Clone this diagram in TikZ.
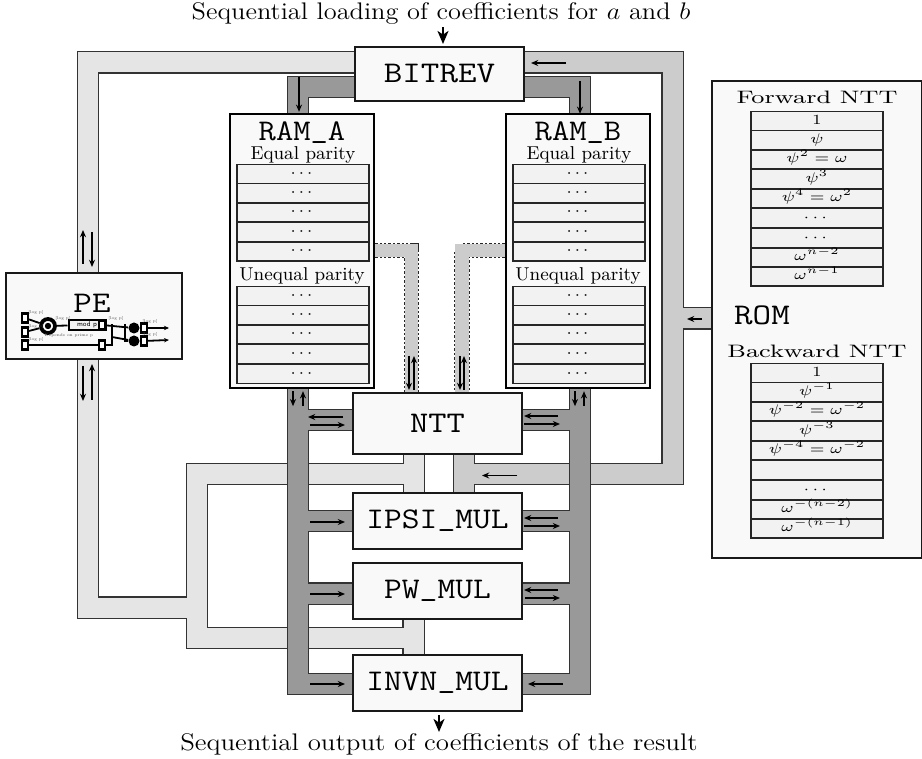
\documentclass[tikz,border=0pt]{standalone}
\usepackage{amsmath}
\usepackage{xcolor}
\usepackage{tikz}
\usetikzlibrary{arrows.meta, positioning, backgrounds, calc}

\definecolor{darkbus}{gray}{0.60}
\definecolor{medbus}{gray}{0.80}
\definecolor{lightbus}{gray}{0.90}

\newcommand{\drawbus}[2]{%
  \draw[line width=11.3pt, black!80] #2;
  \draw[line width=10pt, #1] #2;
}
\newcommand{\drawdotbus}[1]{%
  \draw[line width=7.8pt, black!85, dash pattern=on 1.2pt off 1pt] #1;
  \draw[line width=6.6pt, medbus] #1;
}
\newcommand{\romtext}[1]{\scalebox{1.2}[1]{\scriptsize #1}}
\newcommand{\blocktext}[2][1.15]{\scalebox{#1}[1]{\fontsize{15}{17}\selectfont\ttfamily #2}}
\newcommand{\usc}{\raisebox{1.6pt}{\_}}
\newcommand{\widetext}[1]{\scalebox{1.1}[1]{\fontsize{12}{14}\selectfont #1}}

\begin{document}
\begin{tikzpicture}[
    x=0.5pt, y=-0.5pt,
    every node/.style={font=\fontsize{9.3}{11}\selectfont},
    block/.style={rectangle, draw=black!90, line width=1pt, fill=black!2.5, minimum width=84.5pt, minimum height=28pt, inner sep=0pt},
    ram/.style={rectangle, draw=black, line width=1.2pt, fill=black!2.5, minimum width=72pt, minimum height=137pt},
    cell/.style={rectangle, draw=black!85, line width=0.75pt, fill=black!5, minimum width=66pt, minimum height=9.7pt, inner sep=0pt, text height=6.4pt, text depth=3.3pt},
    title/.style={inner sep=0pt},
    arrow/.style={-{Stealth[length=3.6pt, width=3pt]}, line width=0.9pt},
    bigarrow/.style={-{Stealth[length=6.5pt, width=5.5pt, inset=1.8pt]}, line width=1pt},
    minireg/.style={rectangle, draw=black, line width=1.1pt, fill=white, minimum width=3pt, minimum height=4.5pt, inner sep=0pt},
    wire/.style={line width=0.9pt},
    minilabel/.style={font=\fontsize{2}{2}\selectfont, text=black!70, inner sep=0pt}
]
\useasboundingbox (0,0) rectangle (922,759);

% main blocks
\node (bitrev) [block, minimum height=27pt] at (439.5,74) {\blocktext[1.2]{BITREV}};
\node (ntt) [block, minimum height=30.5pt] at (437.5,423.5) {\blocktext[1.18]{NTT}};
\node (ipsi) [block] at (437.5,521) {\blocktext{IPSI\usc MUL}};
\node (pw) [block] at (437.5,591) {\blocktext{PW\usc MUL}};
\node (invn) [block] at (437.5,683) {\blocktext{INVN\usc MUL}};
\node (pe) [block, minimum width=88pt, minimum height=43pt] at (94,316) {};
\node (rom) [rectangle, draw=black!90, line width=1pt, fill=black!2.5, minimum width=105pt, minimum height=238.5pt, inner sep=0pt] at (817,319.5) {};

\node (toptext) [inner sep=0pt] at (441,14) {\widetext{Sequential loading of coefficients for $a$ and $b$}};
\node (bottomtext) [inner sep=0pt] at (439,744) {\scalebox{1.02}[1]{\widetext{Sequential output of coefficients of the result}}};

% RAM blocks
\node (ramA) [ram] at (302,251) {};
\node (ramB) [ram] at (578,251) {};
\node (titleA) [title] at (302,133) {\blocktext[1.12]{RAM\usc A}};
\node (titleB) [title] at (578,133) {\blocktext[1.12]{RAM\usc B}};
\node (eqA) at (303,155) {Equal parity};
\node (eqB) at (579,155) {Equal parity};
\node (uneqA) at (302,276) {Unequal parity};
\node (uneqB) at (578,276) {Unequal parity};
\foreach \i/\y in {1/174,2/193,3/212.5,4/232,5/251.5,6/296,7/315,8/334.5,9/354,10/374} {
    \node (cellA\i) [cell] at (303,\y) {\scalebox{1.1}[1]{\footnotesize$\cdots$}};
    \node (cellB\i) [cell] at (579,\y) {\scalebox{1.1}[1]{\footnotesize$\cdots$}};
}

% ROM contents
\node (romlabel) [title] at (762,315) {\blocktext[1.2]{ROM}};
\node (fwdlabel) [inner sep=0pt] at (817,97) {\scalebox{1.42}[1]{\fontsize{9}{10}\selectfont Forward NTT}};
\node (bwdlabel) [inner sep=0pt] at (817,351) {\scalebox{1.42}[1]{\fontsize{9}{10}\selectfont Backward NTT}};
\foreach \i/\y/\txt in {1/121/1, 2/140/\psi, 3/159.5/\psi^2=\omega, 4/179/\psi^3, 5/198.5/\psi^4=\omega^2, 6/218/\cdots, 7/238/\cdots, 8/257.5/\omega^{n-2}, 9/276.5/\omega^{n-1}} {
    \node (fwd\i) [cell] at (817,\y) {\romtext{$\txt$}};
}
\foreach \i/\y/\txt in {1/373/1, 2/392/\psi^{-1}, 3/411.5/\psi^{-2}=\omega^{-2}, 4/431/\psi^{-3}, 5/450.5/\psi^{-4}=\omega^{-2}, 6/470/, 7/490/\cdots, 8/509.5/\omega^{-(n-2)}, 9/528.5/\omega^{-(n-1)}} {
    \node (bwd\i) [cell] at (817,\y) {\romtext{$\txt$}};
}

% PE contents
\node (pelabel) [title] at (92,303) {\blocktext[1.2]{PE}};
\coordinate (mjoinA) at (112,324);
\coordinate (mjoinB) at (112,337);
\coordinate (mjoinC) at (125,324);
\coordinate (mjoinD) at (125,341);
\coordinate (mout6) at (169,328);
\coordinate (mout7) at (169,340);
\node (mreg1) [minireg] at (25,318) {};
\node (mreg2) [minireg] at (25,332) {};
\node (mreg3) [minireg] at (25,345) {};
\node (mmul) [circle, draw=black, line width=1.9pt, fill=white, minimum size=7pt, inner sep=0pt] at (48,326) {};
\node (mdot) [circle, fill=black, minimum size=3.2pt, inner sep=0pt] at (mmul) {};
\node (mmod) [rectangle, draw=black, line width=1pt, fill=black!5, minimum width=18.5pt, minimum height=5pt, inner sep=0pt, font=\fontsize{3.5}{4}\selectfont\sffamily] at (87,325) {mod p};
\node (mreg4) [minireg] at (102,325) {};
\node (mreg5) [minireg] at (102,345) {};
\node (madd) [circle, fill=black, minimum size=5.5pt, inner sep=0pt] at (134,328) {};
\node (msub) [circle, fill=black, minimum size=5.5pt, inner sep=0pt] at (134,341) {};
\node (mreg6) [minireg] at (144,328) {};
\node (mreg7) [minireg] at (144,341) {};
\draw [wire] (mreg1) -- (mmul);
\draw [wire] (mreg2) -- (mmul);
\draw [wire] (mreg3) -- (mreg5);
\draw [wire] (mmul) -- (mmod);
\draw [wire] (mreg4) -- (madd);
\draw [wire] (mreg5.east) -| (mjoinB) -- (msub);
\draw [wire] (mjoinB) -- (mjoinA);
\draw [wire] (mjoinC) -- (mjoinD) -- (msub);
\draw [-{Stealth[length=2.5pt,width=2.2pt]}, wire] (mreg6) -- (mout6);
\draw [-{Stealth[length=2.5pt,width=2.2pt]}, wire] (mreg7) -- (mout7);
\node (mtxt1) [minilabel] at (36,313) {[log p]};
\node (mtxt2) [minilabel] at (36,327) {[log p]};
\node (mtxt3) [minilabel] at (36,340) {[log p]};
\node (mtxt4) [minilabel] at (63,319) {[log p]};
\node (mtxt5) [minilabel] at (116,319) {[log p]};
\node (mtxt6) [minilabel] at (150,322) {[log p]};
\node (mtxt7) [minilabel] at (150,335) {[log p]};
\node (mtxt8) [minilabel] at (69,336) {Depends on prime p};

% buses
\begin{scope}[on background layer]
\coordinate (lightT) at (414,474);
\coordinate (lightC) at (197,638);
\coordinate (lightJ) at (414,638);
\coordinate (lightM) at (197,607.5);
\coordinate (medC) at (672.5,474);
\coordinate (medJ) at (464,474);
\coordinate (medS) at (672.5,318.5);
\coordinate (darkL) at (298,684);
\coordinate (darkR) at (580,684);
\drawbus{lightbus}{([shift={(-6,0)}]pe.north) |- ([shift={(0,-11.5)}]bitrev.west)
    ([shift={(-6,0)}]pe.south) |- (lightM)
    (lightT) -| (lightC) -- (lightJ)
    ([shift={(-23.5,0)}]ntt.south) -- ([shift={(-23.5,0)}]ipsi.north)
    ([shift={(-24,0)}]pw.south) -- ([shift={(-24,0)}]invn.north)}
\drawbus{medbus}{([shift={(0,-11.5)}]bitrev.east) -| (medC) -- (medJ)
    ([shift={(26.5,0)}]ntt.south) -- ([shift={(26.5,0)}]ipsi.north)
    (medS) -- (medS -| rom.west)}
\drawbus{darkbus}{([shift={(-4,0)}]ramA.south) -- (darkL) -- (darkL -| invn.west)
    ([shift={(2,0)}]ramB.south) -- (darkR) -- (darkR -| invn.east)
    ([shift={(-4,0)}]ramA.north) |- ([shift={(0,13)}]bitrev.west)
    ([shift={(2,0)}]ramB.north) |- ([shift={(0,13)}]bitrev.east)
    ([shift={(0,-3.5)}]ntt.west) -- ++(-55,0)
    ([shift={(0,-3.5)}]ntt.east) -- ++(58,0)
    (ipsi.west) -- ++(-55,0)
    (ipsi.east) -- ++(58,0)
    ([shift={(0,2.5)}]pw.west) -- ++(-55,0)
    ([shift={(0,2.5)}]pw.east) -- ++(58,0)}
\drawdotbus{([shift={(0,-0.5)}]ramA.east) -| ([shift={(-26,0)}]ntt.north)}
\drawdotbus{([shift={(0,-0.5)}]ramB.west) -| ([shift={(24.5,0)}]ntt.north)}
\end{scope}

% arrows
\draw [bigarrow] ([shift={(2,2)}]toptext.south) -- ([shift={(3.5,-2)}]bitrev.north);
\draw [bigarrow] ([shift={(1.5,3)}]invn.south) -- ([shift={(1.5,20)}]invn.south);
\draw [arrow] ([shift={(-3,-36)}]ramA.north) -- ([shift={(-3,-1)}]ramA.north);
\draw [arrow] ([shift={(2,-32)}]ramB.north) -- ([shift={(2,1)}]ramB.north);
\draw [arrow] ([shift={(41,-11)}]bitrev.east) -- ([shift={(6,-11)}]bitrev.east);
\draw [arrow] ([shift={(-11,-8)}]pe.north) -- ([shift={(-11,-42)}]pe.north);
\draw [arrow] ([shift={(-2,-40)}]pe.north) -- ([shift={(-2,-5)}]pe.north);
\draw [arrow] ([shift={(-11,6)}]pe.south) -- ([shift={(-11,41)}]pe.south);
\draw [arrow] ([shift={(-2,40)}]pe.south) -- ([shift={(-2,4)}]pe.south);
\draw [arrow] ([shift={(-9,2)}]ramA.south) -- ([shift={(-9,17)}]ramA.south);
\draw [arrow] ([shift={(1,17)}]ramA.south) -- ([shift={(1,2)}]ramA.south);
\draw [arrow] ([shift={(-3,2)}]ramB.south) -- ([shift={(-3,17)}]ramB.south);
\draw [arrow] ([shift={(6,17)}]ramB.south) -- ([shift={(6,2)}]ramB.south);
\draw [arrow] ([shift={(-28.5,-36)}]ntt.north) -- ([shift={(-28.5,-2)}]ntt.north);
\draw [arrow] ([shift={(-23.5,-2)}]ntt.north) -- ([shift={(-23.5,-36)}]ntt.north);
\draw [arrow] ([shift={(22.5,-36)}]ntt.north) -- ([shift={(22.5,-2)}]ntt.north);
\draw [arrow] ([shift={(26.5,-2)}]ntt.north) -- ([shift={(26.5,-36)}]ntt.north);
\draw [arrow] ([shift={(-9,-6.5)}]ntt.west) -- ([shift={(-44,-6.5)}]ntt.west);
\draw [arrow] ([shift={(-42,1.5)}]ntt.west) -- ([shift={(-7,1.5)}]ntt.west);
\draw [arrow] ([shift={(35,-7.5)}]ntt.east) -- ([shift={(1,-7.5)}]ntt.east);
\draw [arrow] ([shift={(1,0.5)}]ntt.east) -- ([shift={(37,0.5)}]ntt.east);
\draw [arrow] ([shift={(-42,1)}]ipsi.west) -- ([shift={(-7,1)}]ipsi.west);
\draw [arrow] ([shift={(35,-3)}]ipsi.east) -- ([shift={(1,-3)}]ipsi.east);
\draw [arrow] ([shift={(1,5)}]ipsi.east) -- ([shift={(37,5)}]ipsi.east);
\draw [arrow] ([shift={(-42,3)}]pw.west) -- ([shift={(-7,3)}]pw.west);
\draw [arrow] ([shift={(35,-1)}]pw.east) -- ([shift={(1,-1)}]pw.east);
\draw [arrow] ([shift={(2,7)}]pw.east) -- ([shift={(37,7)}]pw.east);
\draw [arrow] ([shift={(-42,1)}]invn.west) -- ([shift={(-7,1)}]invn.west);
\draw [arrow] ([shift={(40,1)}]invn.east) -- ([shift={(5,1)}]invn.east);
\draw [arrow] ([shift={(79.5,20.5)}]ntt.south) -- ([shift={(44.5,20.5)}]ntt.south);
\draw [arrow] ([shift={(-9,-0.5)}]rom.west) -- ([shift={(-24,-0.5)}]rom.west);
\end{tikzpicture}
\end{document}
